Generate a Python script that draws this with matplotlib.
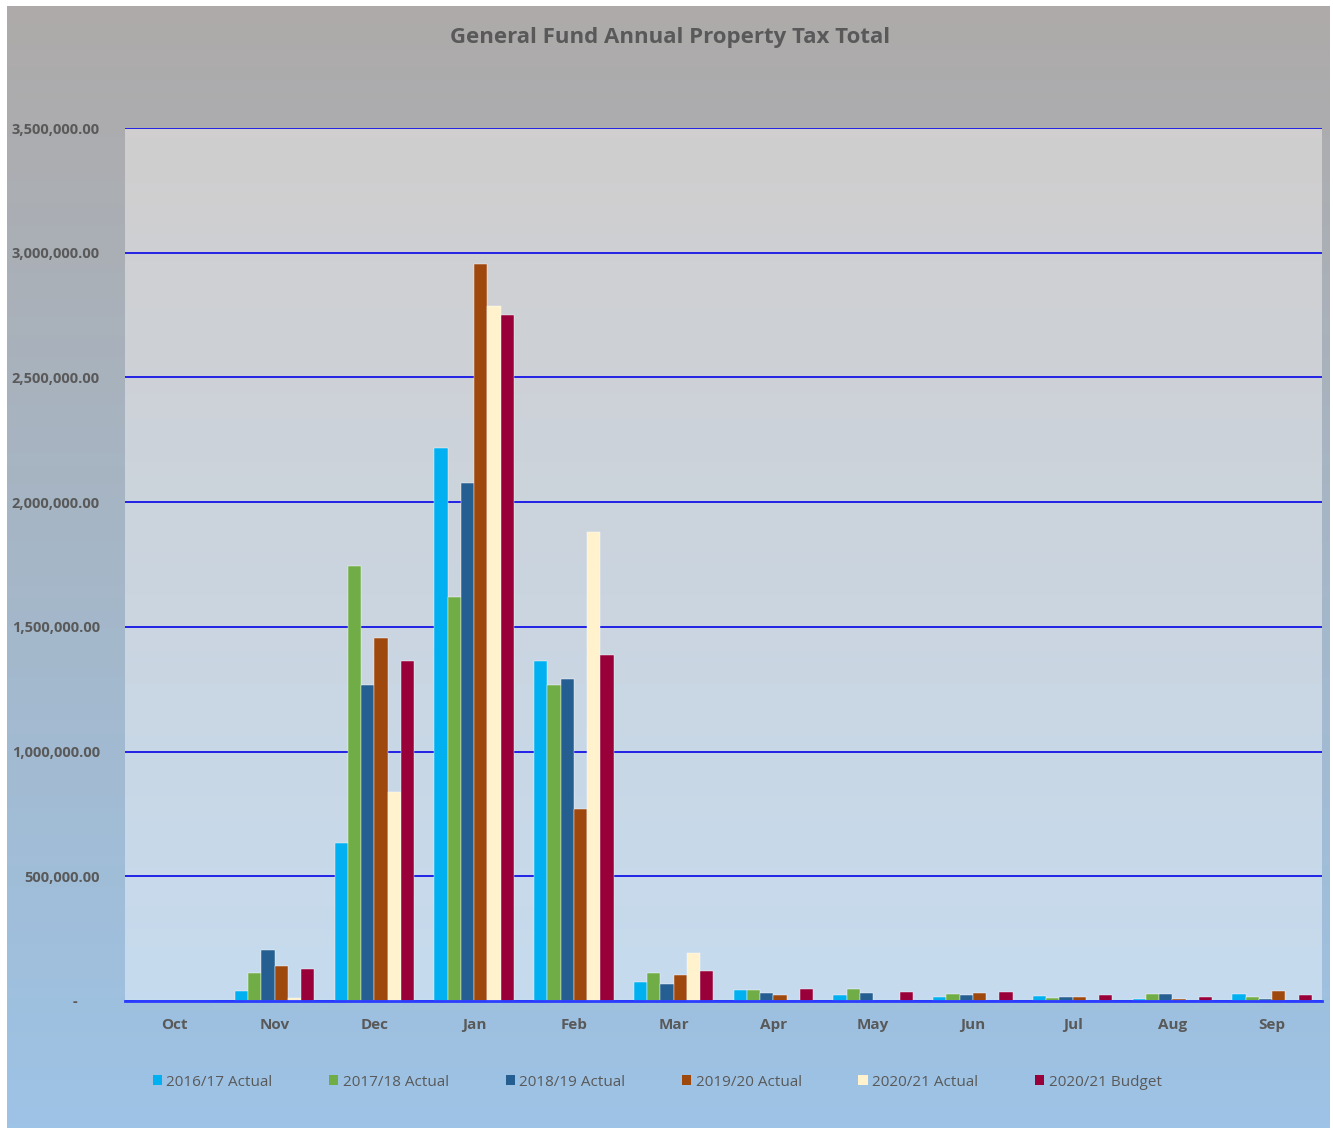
import numpy as np
import matplotlib.pyplot as plt
from matplotlib.patches import Patch

months = ['Oct', 'Nov', 'Dec', 'Jan', 'Feb', 'Mar', 'Apr', 'May', 'Jun', 'Jul', 'Aug', 'Sep']

fy17_actual = [0, 40000, 634000, 2218000, 1364000, 78000, 46000, 23000, 18000, 20000, 7000, 27000]
fy18_actual = [0, 111000, 1745000, 1621000, 1268000, 112000, 43000, 47000, 27000, 12000, 27000, 15000]
fy19_actual = [2000, 206000, 1268000, 2078000, 1292000, 67000, 31000, 34000, 26000, 18000, 27000, 7000]
fy20_actual = [0, 139000, 1457000, 2953000, 771000, 106000, 24000, 2000, 32000, 18000, 10000, 40000]
fy21_actual = [2000, 11000, 839000, 2788000, 1882000, 192000, 0, 0, 0, 0, 0, 0]
fy21_budget = [2000, 130000, 1365000, 2752000, 1389000, 120000, 50000, 35000, 38000, 23000, 18000, 24000]

series = [fy17_actual, fy18_actual, fy19_actual, fy20_actual, fy21_actual, fy21_budget]
labels = ['2016/17 Actual', '2017/18 Actual', '2018/19 Actual', '2019/20 Actual',
          '2020/21 Actual', '2020/21 Budget']
colors = ['#00b0f0', '#70ad47', '#255e91', '#9e480e', '#fff2cc', '#99003a']

txt = '#595959'
plt.rcParams['font.family'] = ['Open Sans', 'DejaVu Sans']

fig = plt.figure(figsize=(13.33, 11.31), dpi=100)
fig.patch.set_facecolor('white')

# outer chart area gradient (grey -> light blue)
bg = fig.add_axes([7 / 1333, 3 / 1131, 1323 / 1333, 1122 / 1131], zorder=-5)
grad = np.linspace(0, 1, 256)[:, None]
c_top = np.array([0.682, 0.667, 0.663])
c_bot = np.array([0.616, 0.765, 0.902])
img = c_top[None, None, :] * (1 - grad[:, :, None]) + c_bot[None, None, :] * grad[:, :, None]
bg.imshow(img, aspect='auto', extent=[0, 1, 0, 1])
bg.set_xlim(0, 1)
bg.set_ylim(0, 1)
bg.axis('off')

ax = fig.add_axes([125 / 1333, 130 / 1131, 1197 / 1333, 873 / 1131])
ax.set_facecolor('none')

# plot area gradient
p_top = np.array([0.816, 0.808, 0.808])
p_bot = np.array([0.776, 0.859, 0.937])
img2 = p_top[None, None, :] * (1 - grad[:, :, None]) + p_bot[None, None, :] * grad[:, :, None]
ax.imshow(img2, aspect='auto', extent=[0, 1, 0, 1], transform=ax.transAxes, zorder=0)

x = np.arange(len(months))
w = 0.133
for i, (vals, col) in enumerate(zip(series, colors)):
    ax.bar(x + (i - 2.5) * w, vals, width=w, color=col, zorder=3,
           edgecolor='white', linewidth=0.3)

ax.set_xlim(-0.5, 11.5)
ax.set_ylim(0, 3500000)
yt = np.arange(0, 3500001, 500000)
ax.set_yticks(yt)
ax.set_yticklabels(['-      ' if v == 0 else f'{v:,.2f}' for v in yt],
                   fontsize=10.5, fontweight='bold', color=txt)
ax.set_xticks(x)
ax.set_xticklabels(months, fontsize=11, fontweight='bold', color=txt)
ax.tick_params(axis='y', length=0, pad=18)
ax.tick_params(axis='x', length=0, pad=12)
ax.yaxis.grid(True, color='#1414e6', linewidth=1.3, zorder=1)
ax.set_axisbelow(True)
for s in ['top', 'right', 'left']:
    ax.spines[s].set_visible(False)
ax.spines['bottom'].set_color('#2a3cff')
ax.spines['bottom'].set_linewidth(2)
ax.spines['bottom'].set_zorder(4)

fig.text(0.503, 1 - 37 / 1131, 'General Fund Annual Property Tax Total',
         ha='center', va='center', fontsize=16, fontweight='bold', color=txt)

handles = [Patch(facecolor=c, edgecolor='none') for c in colors]
fig.legend(handles, labels, loc='center', bbox_to_anchor=(0.493, 1 - 1082 / 1131),
           ncol=6, frameon=False, fontsize=11, labelcolor=txt,
           handlelength=0.6, handleheight=0.6, handletextpad=0.3, columnspacing=3.7)

fig.savefig('out.png', dpi=100)
